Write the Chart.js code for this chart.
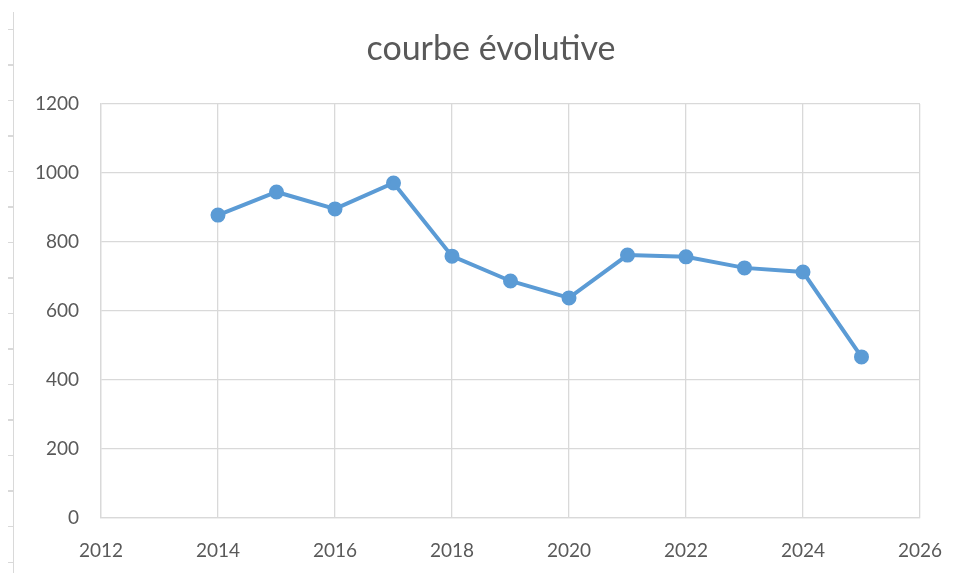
<!DOCTYPE html>
<html>
<head>
<meta charset="utf-8">
<script src="https://cdn.jsdelivr.net/npm/chart.js@4/dist/chart.umd.min.js"></script>
<style>
  html, body { margin: 0; padding: 0; background: #ffffff; }
  #wrap { position: relative; width: 969px; height: 573px; }
  #ruler {
    position: absolute; left: 8px; top: 12px; width: 5px; height: 561px;
    border-right: 1px solid #d9d9d9;
    background: repeating-linear-gradient(to bottom, transparent 0px, transparent 17px, #d9d9d9 17px, #d9d9d9 18px, transparent 18px, transparent 35.5px);
  }
</style>
</head>
<body>
<div id="wrap">
  <div id="ruler"></div>
  <canvas id="chart" width="969" height="573"></canvas>
</div>
<script>
const years = [2014, 2015, 2016, 2017, 2018, 2019, 2020, 2021, 2022, 2023, 2024, 2025];
const values = [878, 945, 896, 971, 759, 687, 638, 762, 757, 725, 713, 467];
const xTicks = [2012, 2014, 2016, 2018, 2020, 2022, 2024, 2026];
const yTicks = [0, 200, 400, 600, 800, 1000, 1200];

const labelColor = "#595959";
const gridColor = "#d9d9d9";
const fontFamily = "Lato, 'Open Sans', sans-serif";

const canvas = document.querySelector("#chart");

const options = {
  type: "line",
  data: {
    datasets: [
      {
        label: "courbe évolutive",
        data: years.map((y, i) => ({ x: y, y: values[i] })),
        borderColor: "#5B9BD5",
        backgroundColor: "#5B9BD5",
        borderWidth: 4,
        pointRadius: 5.5,
        pointHoverRadius: 5.5,
        tension: 0,
      },
    ],
  },
  options: {
    responsive: false,
    animation: false,
    layout: { padding: { top: 0, right: 0, bottom: 0, left: 13 } },
    plugins: {
      legend: { display: false },
      tooltip: { enabled: false },
      title: {
        display: true,
        text: "courbe évolutive",
        color: labelColor,
        font: { family: fontFamily, size: 34, weight: "normal", lineHeight: 1.2 },
        padding: { top: 28.6, bottom: 34.6 },
      },
    },
    scales: {
      x: {
        type: "linear",
        min: xTicks[0],
        max: xTicks[xTicks.length - 1],
        afterBuildTicks: (scale) => {
          scale.ticks = xTicks.map((v) => ({ value: v }));
        },
        afterFit: (scale) => {
          scale.height = 55;
        },
        grid: { color: gridColor, drawTicks: false, lineWidth: 1.3 },
        border: { color: gridColor, width: 1.3 },
        ticks: {
          color: labelColor,
          font: { family: fontFamily, size: 19 },
          padding: 21,
          callback: (v) => String(v),
        },
      },
      y: {
        min: yTicks[0],
        max: yTicks[yTicks.length - 1],
        afterBuildTicks: (scale) => {
          scale.ticks = yTicks.map((v) => ({ value: v }));
        },
        afterFit: (scale) => {
          scale.width = 88;
        },
        grid: { color: gridColor, drawTicks: false, lineWidth: 1.3 },
        border: { color: gridColor, width: 1.3 },
        ticks: {
          color: labelColor,
          font: { family: fontFamily, size: 19 },
          padding: 22,
          callback: (v) => String(v),
        },
      },
      // empty right-hand space, as in the reference
      spacer: {
        type: "linear",
        position: "right",
        min: 0,
        max: 1,
        afterFit: (scale) => {
          scale.width = 49;
        },
        grid: { display: false, drawOnChartArea: false },
        border: { display: false },
        ticks: { display: false },
      },
    },
  },
};

const evolChart = new Chart(canvas, options);
</script>
</body>
</html>
